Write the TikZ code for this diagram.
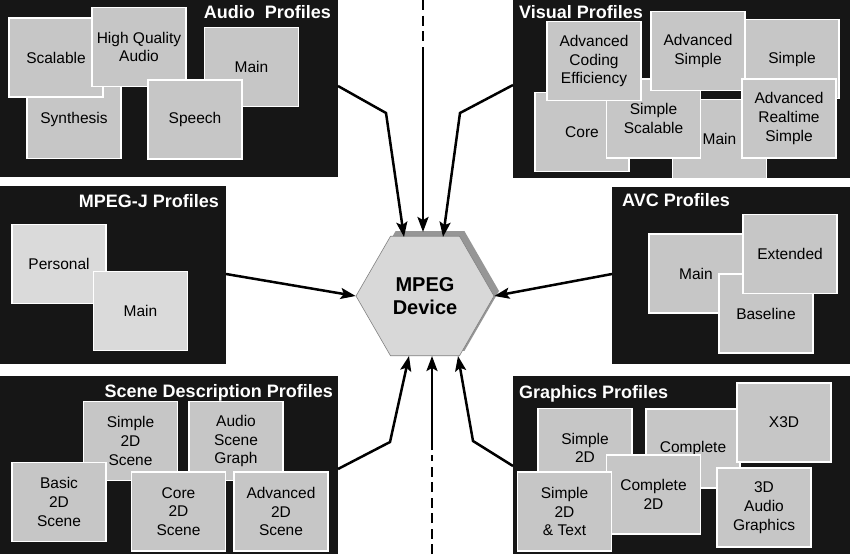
\documentclass[tikz,border=0pt]{standalone}
\usepackage{fontspec}
\setmainfont{Liberation Sans}
\usetikzlibrary{arrows.meta,shapes.geometric,shadows}
\definecolor{panelc}{RGB}{22,22,22}
\definecolor{boxc}{RGB}{198,198,198}
\definecolor{boxl}{RGB}{218,218,218}
\definecolor{hexc}{RGB}{216,216,216}
\definecolor{hexb}{RGB}{130,130,130}
\definecolor{shadc}{RGB}{150,150,150}
\begin{document}
\begin{tikzpicture}[x=1pt,y=-1pt,
  panel/.style={fill=panelc, draw=none, inner sep=0pt, outer sep=0pt, anchor=north west},
  pbox/.style={fill=boxc, draw=white, line width=1.6pt, inner sep=0pt, align=center,
    font=\fontsize{15.5}{18.7}\selectfont, minimum width=94pt, minimum height=79pt},
  lbox/.style={pbox, fill=boxl},
  ptitle/.style={text=white, font=\fontsize{18}{21}\selectfont\bfseries, inner sep=0pt},
  conn/.style={line width=2.5pt, line join=miter, -{Stealth[length=15pt,width=11pt,inset=3pt]}},
  dline/.style={line width=2.5pt, dash pattern=on 10pt off 5.5pt}
]
\useasboundingbox (0,0) rectangle (850,554);
\fill[white] (0,0) rectangle (850,554);

% panels
\node[panel, minimum width=338pt, minimum height=177pt] (audio) at (0,0) {};
\node[panel, minimum width=337pt, minimum height=178pt] (visual) at (513,0) {};
\node[panel, minimum width=226pt, minimum height=178pt] (mpegj) at (0,186) {};
\node[panel, minimum width=238pt, minimum height=177pt] (avc) at (612,187) {};
\node[panel, minimum width=338pt, minimum height=178pt] (scene) at (0,376) {};
\node[panel, minimum width=337pt, minimum height=178pt] (graph) at (513,376) {};

% Audio
\node[pbox] (synth) at (74,119) {Synthesis};
\node[pbox] (scal) at (56,57.5) {Scalable};
\node[pbox] (hqa) at (139,47) {High Quality\\Audio};
\node[pbox] (amain) at (251.5,67) {Main};
\node[pbox] (speech) at (195,119.5) {Speech};
\node[ptitle, anchor=base east] (audiot) at (331,18.5) {Audio\ \ Profiles};

% Visual
\node[pbox] (vcore) at (582,132) {Core};
\node[pbox] (vmain) at (719.5,139) {Main};
\node[pbox] (vss) at (653.5,118.5) {Simple\\Scalable};
\node[pbox] (vace) at (594,61) {Advanced\\Coding\\Efficiency};
\node[pbox] (vsimple) at (792,59) {Simple};
\node[pbox] (vas) at (698,51) {Advanced\\Simple};
\node[pbox] (vars) at (789,118.5) {Advanced\\Realtime\\Simple};
\node[ptitle, anchor=base west] (visualt) at (519,18.5) {Visual Profiles};

% MPEG-J
\node[lbox] (jpers) at (59,264) {Personal};
\node[lbox] (jmain) at (140.5,311) {Main};
\node[ptitle, anchor=base east] (mpegjt) at (219,207.5) {MPEG-J Profiles};

% AVC
\node[pbox] (cmain) at (696,273.5) {Main};
\node[pbox] (cbase) at (766,313.5) {Baseline};
\node[pbox] (cext) at (790,254) {Extended};
\node[ptitle, anchor=base west] (avct) at (622,206.5) {AVC Profiles};

% Scene description
\node[pbox] (s2d) at (130.5,441) {Simple\\2D\\Scene};
\node[pbox] (sasg) at (236,441) {Audio\\Scene\\Graph};
\node[pbox] (sbasic) at (59,502) {Basic\\2D\\Scene};
\node[pbox] (score) at (178.5,511.5) {Core\\2D\\Scene};
\node[pbox] (sadv) at (281,511.5) {Advanced\\2D\\Scene};
\node[ptitle, anchor=base east] (scenet) at (333,397.5) {Scene Description Profiles};

% Graphics
\node[pbox] (gs2d) at (585,448) {Simple\\2D};
\node[pbox] (gcomp) at (693,448.5) {Complete};
\node[pbox] (gx3d) at (784,422.5) {X3D};
\node[pbox] (gc2d) at (653.5,494.5) {Complete\\2D};
\node[pbox] (gs2dt) at (564.5,511.5) {Simple\\2D\\\& Text};
\node[pbox] (g3da) at (764,507.5) {3D\\Audio\\Graphics};
\node[ptitle, anchor=base west] (grapht) at (519,398.5) {Graphics Profiles};

% device
\node[regular polygon, regular polygon sides=6, minimum size=138pt, inner sep=0pt,
  fill=hexc, draw=hexb, line width=0.6pt,
  general shadow={fill=shadc, shadow xshift=5pt, shadow yshift=5pt},
  align=center, font=\fontsize{20}{23.3}\selectfont\bfseries] (dev) at (425,296) {MPEG\\Device};

% connector points
\coordinate (ta) at (404,237);
\coordinate (tb) at (423,232);
\coordinate (tc) at (443,237);
\coordinate (ba) at (409,356);
\coordinate (bb) at (432,356);
\coordinate (bc) at (458,356);
\coordinate (ka) at (386,113);
\coordinate (kc) at (460,113);
\coordinate (kd) at (390,442);
\coordinate (kf) at (473,441);
\coordinate (td0) at (423,0);
\coordinate (td1) at (423,41);
\coordinate (td2) at (423,47);
\coordinate (bd0) at (432,554);
\coordinate (bd1) at (432,455);
\coordinate (bd2) at (432,450);

% connectors
\draw[conn] ([yshift=2.5pt]audio.east) -- (ka) -- (ta);
\draw[dline] (td0) -- (td1);
\draw[conn] (td2) -- (tb);
\draw[conn] ([yshift=4pt]visual.west) -- (kc) -- (tc);
\draw[conn] ([yshift=1pt]mpegj.east) -- (dev.west);
\draw[conn] ([yshift=1.5pt]avc.west) -- (dev.east);
\draw[conn] ([yshift=-4pt]scene.east) -- (kd) -- (ba);
\draw[dline] (bd0) -- (bd1);
\draw[conn] (bd2) -- (bb);
\draw[conn] ([yshift=-1pt]graph.west) -- (kf) -- (bc);
\end{tikzpicture}
\end{document}
